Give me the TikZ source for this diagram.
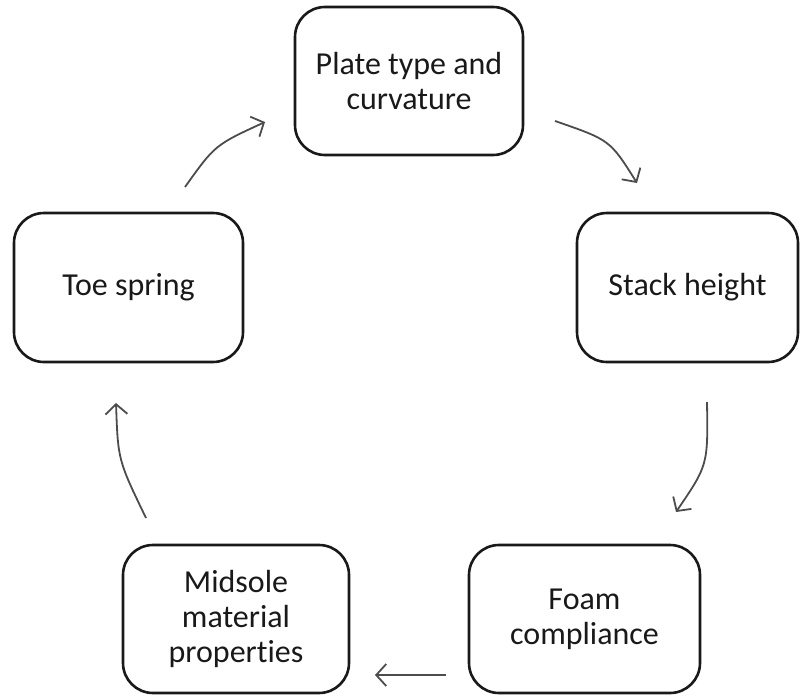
\documentclass[tikz,border=0pt]{standalone}
\usepackage{fontspec}
\setmainfont{Carlito}[Ligatures=NoCommon]
\usetikzlibrary{arrows.meta}
\begin{document}
\begin{tikzpicture}[x=1pt,y=-1pt,
  box/.style={draw=black!90, line width=2.6pt, rounded corners=30pt, align=center,
    text=black!90, font=\fontsize{32}{35}\selectfont, inner sep=0pt},
  conn/.style={draw=black!70, line width=1.8pt,
    -{Straight Barb[length=10pt,width=22pt,line width=1.8pt]}}]
\useasboundingbox (0,0) rectangle (800,696);
\node[box, minimum width=228pt, minimum height=148pt] (top) at (409,81) {Plate type and\\curvature};
\node[box, minimum width=221pt, minimum height=149pt] (stack) at (687.5,287.5) {Stack height};
\node[box, minimum width=229pt, minimum height=149pt] (toe) at (128.5,287.5) {Toe spring};
\node[box, minimum width=231pt, minimum height=148pt] (foam) at (584.5,619) {Foam\\compliance};
\node[box, minimum width=226pt, minimum height=148pt] (mid) at (236,619) {Midsole\\material\\properties};
\coordinate (a1s) at (555,121); \coordinate (a1e) at (637,183);
\coordinate (a2s) at (707,402); \coordinate (a2e) at (676,512);
\coordinate (a3s) at (446,675); \coordinate (a3e) at (375,675);
\coordinate (a4s) at (146,518); \coordinate (a4e) at (116,403);
\coordinate (a5s) at (185,187); \coordinate (a5e) at (265,122);
\draw[conn] (a1s) .. controls (610,140) .. (a1e);
\draw[conn] (a2s) .. controls (708,465) .. (a2e);
\draw[conn] (a3s) -- (a3e);
\draw[conn] (a4s) .. controls (118,460) .. (a4e);
\draw[conn] (a5s) .. controls (215,145) .. (a5e);
\end{tikzpicture}
\end{document}
